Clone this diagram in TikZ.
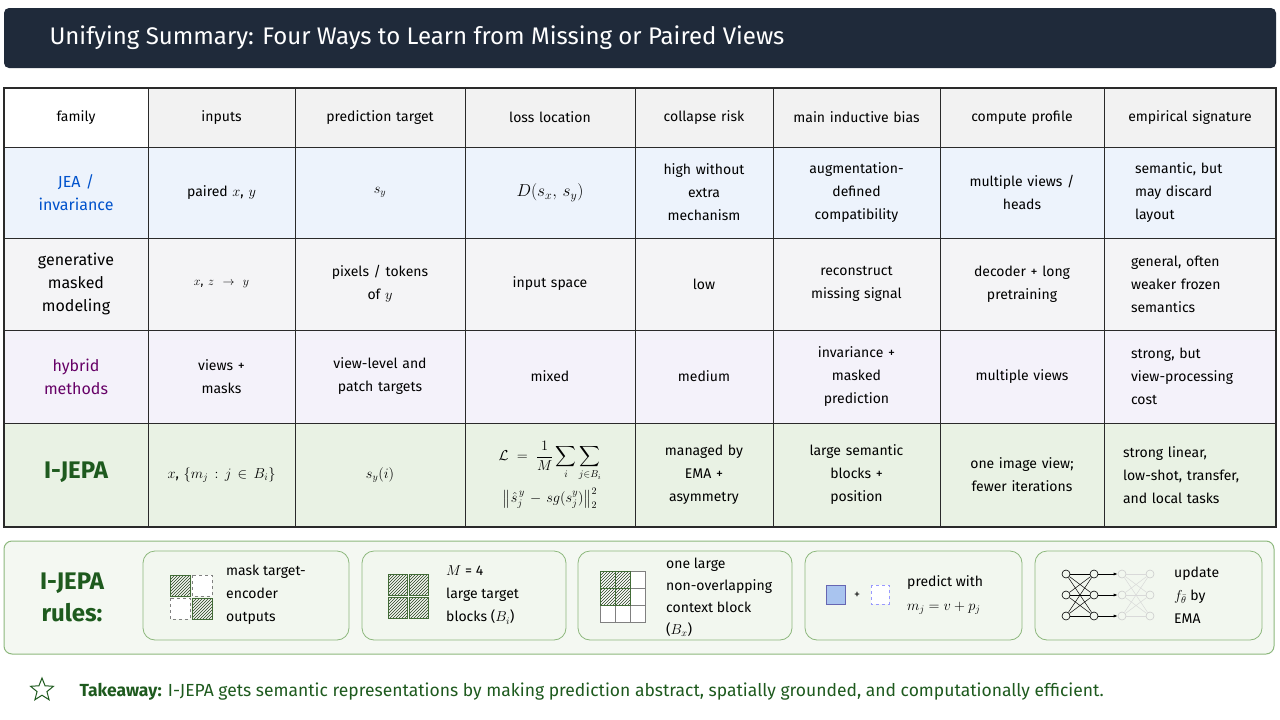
\documentclass[tikz,border=0pt]{standalone}
\usepackage{amsmath}
\usepackage{fontspec}
\setmainfont{Fira Sans}
\usetikzlibrary{patterns,arrows.meta,shapes.geometric}
\definecolor{navy}{HTML}{1F2A3A}
\definecolor{grid}{HTML}{2A2A2A}
\definecolor{headbg}{HTML}{F2F2F2}
\definecolor{jeabg}{HTML}{EDF3FC}
\definecolor{genbg}{HTML}{F4F4F6}
\definecolor{hybbg}{HTML}{F4F2FA}
\definecolor{ijbg}{HTML}{E9F2E4}
\definecolor{dkgreen}{HTML}{1E5A1E}
\definecolor{hatchgr}{HTML}{5E9A4E}
\definecolor{cardbd}{HTML}{8DB87D}
\definecolor{blueic}{HTML}{A9C4EF}
\tikzset{
  cell/.style={align=center, font=\fontsize{14}{23}\selectfont, text width=#1, inner sep=0pt},
  cell/.default=140pt,
  card/.style={draw=cardbd, fill=ijbg!60, rounded corners=12pt, line width=0.8pt},
  hatchbox/.style={draw=hatchgr!70!black, fill=hatchgr!55, pattern color=hatchgr!40!black, line width=0.5pt},
  dashbox/.style={draw=gray, dashed, fill=white, line width=0.5pt},
  rtext/.style={anchor=west, align=left, font=\fontsize{14}{23}\selectfont, inner sep=0pt},
  nnode/.style={circle, draw, inner sep=0pt, minimum size=8pt, line width=0.6pt},
}
\begin{document}
\begin{tikzpicture}[x=1pt,y=-1pt]
\useasboundingbox (0,0) rectangle (1280,720);
\fill[white] (0,0) rectangle (1280,720);
% title
\fill[navy, rounded corners=5pt] (4,8) rectangle (1276,68);
\node[anchor=west, text=white, font=\fontsize{24}{28}\selectfont] (title) at (46,38) {Unifying Summary: Four Ways to Learn from Missing or Paired Views};
% row backgrounds
\fill[headbg] (4,88) rectangle (1276,147);
\fill[jeabg] (4,147) rectangle (1276,238);
\fill[genbg] (4,238) rectangle (1276,330);
\fill[hybbg] (4,330) rectangle (1276,423);
\fill[ijbg] (4,423) rectangle (1276,527);
\fill[white] (4,88) rectangle (148,147);
% grid
\foreach \x in {148,295,465,635,773,940,1104}
  \draw[grid, line width=0.8pt] (\x,88) -- (\x,527);
\foreach \y in {147,238,330,423}
  \draw[grid, line width=0.8pt] (4,\y) -- (1276,\y);
\draw[grid, line width=1.2pt] (4,88) rectangle (1276,527);
% header
\foreach \t [count=\i] /\x in {family/76, inputs/221.5, prediction target/380, loss location/550, collapse risk/704, main inductive bias/856.5, compute profile/1022, empirical signature/1190}
  \node[cell=160pt] (h\i) at (\x,117.5) {\t};
% JEA row
\node[cell, text=blue!60!cyan!80!black, font=\fontsize{16}{23}\selectfont] (jea) at (76,192.5) {JEA /\\invariance};
\node[cell] (jea2) at (221.5,192.5) {paired $x$, $y$};
\node[cell] (jea3) at (380,192.5) {\Large $s_y$};
\node[cell] (jea4) at (550,192.5) {\LARGE $D(s_x,\, s_y)$};
\node[cell=120pt] (jea5) at (704,192.5) {high without\\extra\\mechanism};
\node[cell=160pt] (jea6) at (856.5,192.5) {augmentation-\\defined\\compatibility};
\node[cell=160pt] (jea7) at (1022,192.5) {multiple views /\\heads};
\node[cell=120pt, align=left] (jea8) at (1195,192.5) {semantic, but\\may discard\\layout};
% generative row
\node[cell, font=\fontsize{16}{23}\selectfont] (gen) at (76,284) {generative\\masked\\modeling};
\node[cell] (gen2) at (221.5,284) {\large $x$, $z \rightarrow y$};
\node[cell] (gen3) at (380,284) {pixels / tokens\\of $y$};
\node[cell] (gen4) at (550,284) {input space};
\node[cell] (gen5) at (704,284) {low};
\node[cell=160pt] (gen6) at (856.5,284) {reconstruct\\missing signal};
\node[cell=160pt] (gen7) at (1022,284) {decoder + long\\pretraining};
\node[cell=150pt, align=left] (gen8) at (1206,284) {general, often\\weaker frozen\\semantics};
% hybrid row
\node[cell, text=violet!80!black, font=\fontsize{16}{23}\selectfont] (hyb) at (76,376.5) {hybrid\\methods};
\node[cell] (hyb2) at (221.5,376.5) {views +\\masks};
\node[cell] (hyb3) at (380,376.5) {view-level and\\patch targets};
\node[cell] (hyb4) at (550,376.5) {mixed};
\node[cell] (hyb5) at (704,376.5) {medium};
\node[cell=160pt] (hyb6) at (856.5,376.5) {invariance +\\masked\\prediction};
\node[cell=160pt] (hyb7) at (1022,376.5) {multiple views};
\node[cell=150pt, align=left] (hyb8) at (1206,376.5) {strong, but\\view-processing\\cost};
% I-JEPA row
\node[cell, text=dkgreen, font=\bfseries\fontsize{24}{28}\selectfont] (ij) at (76,472) {I-JEPA};
\node[cell] (ij2) at (221.5,475) {$x$, $\{m_j : j \in B_i\}$};
\node[cell] (ij3) at (380,475) {\Large $s_y(i)$};
\node[cell=160pt, font=\fontsize{14}{17}\selectfont] (ij4) at (550,475) {$\mathcal{L} = \dfrac{1}{M} \displaystyle\sum_i \sum_{j\in B_i}$\\[6pt] $\bigl\| \hat{s}^{\,y}_j - sg(s^{y}_j) \bigr\|_2^2$};
\node[cell] (ij5) at (704,475) {managed by\\EMA +\\asymmetry};
\node[cell=160pt] (ij6) at (856.5,475) {large semantic\\blocks +\\position};
\node[cell=160pt] (ij7) at (1022,475) {one image view;\\fewer iterations};
\node[cell=160pt, align=left] (ij8) at (1203,475) {strong linear,\\low-shot, transfer,\\and local tasks};
% rules panel
\draw[cardbd, fill=ijbg!50, rounded corners=8pt, line width=1pt] (4,541) rectangle (1274,654);
\node[text=dkgreen, font=\bfseries\fontsize{24}{32}\selectfont, align=center] (rules) at (72,597) {I-JEPA\\rules:};
\draw[card] (143,551) rectangle (349,640);
\draw[card] (362,551) rectangle (566,640);
\draw[card] (578,551) rectangle (792,640);
\draw[card] (805,551) rectangle (1022,640);
\draw[card] (1035,551) rectangle (1262,640);
% card 1
\draw[hatchbox, pattern=north east lines] (170,575) rectangle (190,596);
\draw[dashbox] (192,575) rectangle (212,596);
\draw[dashbox] (170,598) rectangle (190,619);
\draw[hatchbox, pattern=north east lines] (192,598) rectangle (212,619);
\node[rtext] (r1) at (226,595) {mask target-\\encoder\\outputs};
% card 2
\foreach \x in {388,409} \foreach \y in {574,597}
  \draw[hatchbox, pattern=north east lines] (\x,\y) rectangle (\x+19,\y+21);
\node[rtext] (r2) at (446,595) {$M$ = 4\\large target\\blocks ($B_i$)};
% card 3
\foreach \i in {0,1,2} \foreach \j in {0,1,2}
  \draw[gray, fill=white, line width=0.5pt] (600+\i*15,571+\j*17) rectangle (615+\i*15,588+\j*17);
\foreach \i in {0,1} \foreach \j in {0,1}
  \draw[hatchbox, pattern=north east lines] (600+\i*15,571+\j*17) rectangle (615+\i*15,588+\j*17);
\node[rtext, font=\fontsize{14}{22}\selectfont] (r3) at (666,597) {one large\\non-overlapping\\context block\\($B_x$)};
% card 4
\draw[blue!50!black!60, fill=blueic, line width=0.6pt] (826,585) rectangle (845,604);
\node[font=\large] (plus) at (857,595) {+};
\draw[blue!40, dashed, fill=white, line width=0.6pt] (871,585) rectangle (889,604);
\node[rtext, font=\fontsize{14}{24}\selectfont] (r4) at (907,595) {predict with\\$m_j = v + p_j$};
% card 5: network
\foreach \k in {0,1,2} {
  \node[nnode] (a\k) at (1066,574+\k*21) {};
  \node[nnode] (b\k) at (1094,574+\k*21) {};
  \node[nnode, draw=gray!40] (c\k) at (1122,574+\k*21) {};
  \node[nnode, draw=gray!40] (d\k) at (1150,574+\k*21) {};
}
\foreach \k in {0,1,2} \foreach \l in {0,1,2}
  \draw[line width=0.5pt] (a\k) -- (b\l);
\foreach \k in {0,1,2} {
  \draw[-{Latex[length=4pt]}, line width=0.7pt] (b\k) -- (c\k);
  \foreach \l in {0,1,2} \draw[gray!30, line width=0.5pt] (c\k) -- (d\l);
}
\node[rtext] (r5) at (1174,595) {update\\$f_{\bar\theta}$ by\\EMA};
% takeaway
\node[draw=dkgreen, star, star points=5, star point ratio=2.3, minimum size=24pt, inner sep=0pt, line width=1pt] (star) at (42,690) {};
\node[anchor=west, text=dkgreen, font=\fontsize{17.5}{20}\selectfont] (take) at (76,692) {\textbf{Takeaway:} I-JEPA gets semantic representations by making prediction abstract, spatially grounded, and computationally efficient.};
\end{tikzpicture}
\end{document}
